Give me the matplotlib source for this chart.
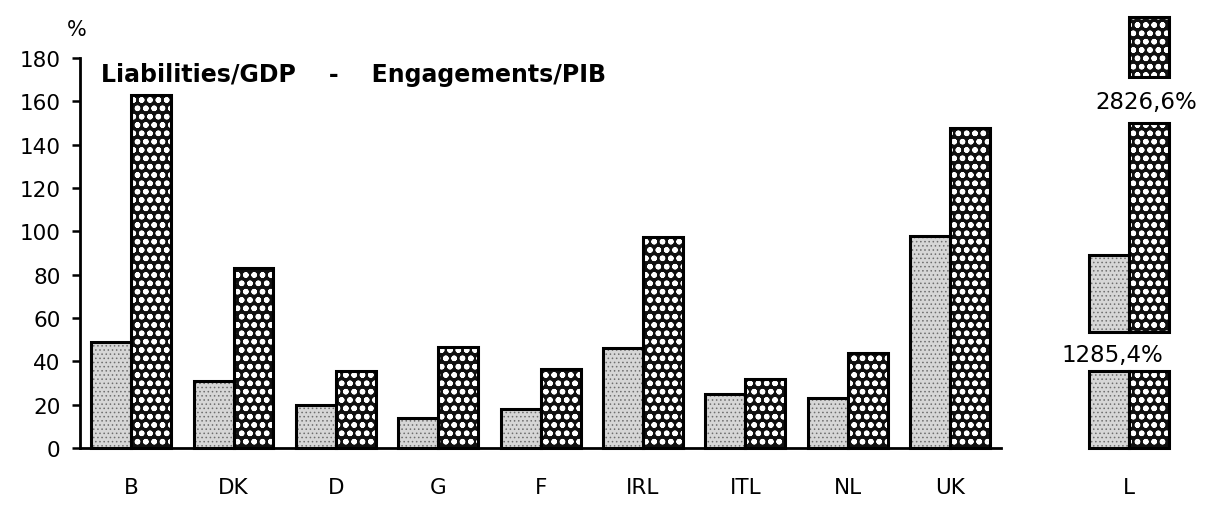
import matplotlib
matplotlib.use("Agg")
from matplotlib import pyplot as plt
import numpy as np

countries = ["B", "DK", "D", "G", "F", "IRL", "ITL", "NL", "UK"]
liabilities = [49, 31, 20, 14, 18, 46, 25, 23, 98]
engagements = [163, 83, 35.5, 46.5, 36.5, 97.5, 32, 44, 147.5]

# Luxembourg is off the scale: real values shown as labels, bars drawn broken
lux_label = "L"
lux_values = [1285.4, 2826.6]
lux_display = [89, 199]

plt.rcParams['font.family'] = ['DejaVu Sans']

fig = plt.figure(figsize=(12.29, 5.06), dpi=100)
ax = fig.add_axes([0.0651, 0.1041, 0.9162, 0.8864])

w = 0.39
light = dict(color="#d6d6d6", edgecolor="#6e6e6e", hatch="....", linewidth=0)
dark = dict(color="#111111", edgecolor="white", hatch="oo", linewidth=0)
outline = dict(fill=False, edgecolor="black", linewidth=2.2)


def draw_bar(x, bottom, top, style, hlw):
	with plt.rc_context({"hatch.linewidth": hlw}):
		ax.bar(x, top - bottom, w, bottom=bottom, align="center", **style)
	ax.bar(x, top - bottom, w, bottom=bottom, align="center", **outline)


X = np.arange(len(countries))
for x, v in zip(X, liabilities):
	draw_bar(x - w / 2, 0, v, light, 0.6)
for x, v in zip(X, engagements):
	draw_bar(x + w / 2, 0, v, dark, 1.6)

# broken bars for L
xl = 9.75
gap_lo = (35.5, 53.5)
gap_hi = (150, 171)
draw_bar(xl - w / 2, 0, gap_lo[0], light, 0.6)
draw_bar(xl - w / 2, gap_lo[1], lux_display[0], light, 0.6)
draw_bar(xl + w / 2, 0, gap_lo[0], dark, 1.6)
draw_bar(xl + w / 2, gap_lo[1], gap_hi[0], dark, 1.6)
draw_bar(xl + w / 2, gap_hi[1], lux_display[1], dark, 1.6)

ax.text(9.58, 43, f"{lux_values[0]:.1f}%".replace(".", ","),
	ha="center", va="center", fontsize=16.5)
ax.text(9.92, 160, f"{lux_values[1]:.1f}%".replace(".", ","),
	ha="center", va="center", fontsize=16.5)

ax.set_xlim(-0.5, 10.5)
ax.set_ylim(-2, 205)
ax.set_yticks(np.arange(0, 181, 20))
ax.set_xticks(list(X) + [xl], countries + [lux_label])

for s in ["top", "right"]:
	ax.spines[s].set_visible(False)
ax.spines["left"].set_bounds(0, 180)
ax.spines["bottom"].set_position(("data", 0))
ax.spines["bottom"].set_bounds(-0.5, 8.5)
for s in ["left", "bottom"]:
	ax.spines[s].set_linewidth(2)
	ax.spines[s].set_zorder(5)
ax.set_facecolor("none")

ax.tick_params(axis="y", length=6, width=1.8, labelsize=15.5, pad=8)
ax.tick_params(axis="x", length=0, labelsize=15.5, pad=21)

fig.text(0.0627, 0.941, "%", ha="center", va="center", fontsize=15)
fig.text(0.0825, 0.852, "Liabilities/GDP    -    Engagements/PIB",
	ha="left", va="center", fontsize=17, fontweight="bold")

fig.savefig("out.png", dpi=100)
